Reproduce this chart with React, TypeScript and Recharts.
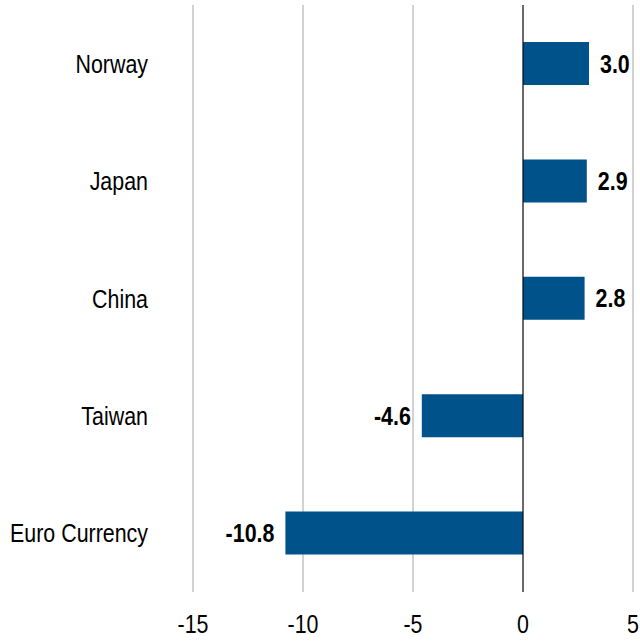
import React from 'react';
import {
  BarChart,
  Bar,
  XAxis,
  YAxis,
  CartesianGrid,
  ReferenceLine,
  LabelList,
} from 'recharts';

const countries = ['Norway', 'Japan', 'China', 'Taiwan', 'Euro Currency'];
const values = [3.0, 2.9, 2.8, -4.6, -10.8];
const xTicks = [-15, -10, -5, 0, 5];

const FONT = '"Liberation Sans", Arial, sans-serif';
const SQUEEZE = 0.84; // the original uses a narrow face, fake it with a horizontal scale

const data = countries.map((name, i) => ({ name, value: values[i] }));

const NarrowText = ({ x, y, anchor, dy, bold, children }: any) => (
  <text
    transform={`translate(${x},${y}) scale(${SQUEEZE},1)`}
    x={0}
    y={0}
    dy={dy}
    textAnchor={anchor}
    fontFamily={FONT}
    fontSize={25.5}
    fontWeight={bold ? 'bold' : 'normal'}
    fill="#000"
  >
    {children}
  </text>
);

const YTick = (props: any) => {
  const { x, y, payload } = props;
  return (
    <NarrowText x={x} y={y} anchor="end" dy="0.36em">
      {payload.value}
    </NarrowText>
  );
};

const XTick = (props: any) => {
  const { x, y, payload } = props;
  return (
    <NarrowText x={x} y={y} anchor="middle" dy="0.71em">
      {payload.value}
    </NarrowText>
  );
};

// label sits outside the bar end, right for positive, left for negative
const renderValueLabel = (props: any) => {
  const { x, y, width, height, value } = props;
  const left = Math.min(x, x + width);
  const right = Math.max(x, x + width);
  const neg = value < 0;
  return (
    <NarrowText
      x={neg ? left - 11 : right + 11}
      y={y + height / 2}
      anchor={neg ? 'end' : 'start'}
      dy="0.36em"
      bold
    >
      {Number(value).toFixed(1)}
    </NarrowText>
  );
};

export default function App() {
  return (
    <div style={{ position: 'absolute', left: 0, top: 0 }}>
      <BarChart
        width={640}
        height={643}
        data={data}
        layout="vertical"
        margin={{ top: 5, right: 7, bottom: 0, left: 0 }}
      >
        <CartesianGrid horizontal={false} vertical={true} stroke="#a6a6a6" strokeWidth={1} />
        <XAxis
          type="number"
          domain={[-15, 5]}
          ticks={xTicks}
          axisLine={false}
          tickLine={false}
          tickSize={0}
          tickMargin={23}
          height={51}
          tick={<XTick />}
        />
        <YAxis
          type="category"
          dataKey="name"
          width={193}
          axisLine={false}
          tickLine={false}
          tickSize={0}
          tickMargin={45}
          tick={<YTick />}
        />
        <ReferenceLine x={0} stroke="#000" strokeWidth={1} />
        <Bar dataKey="value" fill="#00538A" barSize={43} isAnimationActive={false}>
          <LabelList dataKey="value" content={renderValueLabel} />
        </Bar>
      </BarChart>
    </div>
  );
}
